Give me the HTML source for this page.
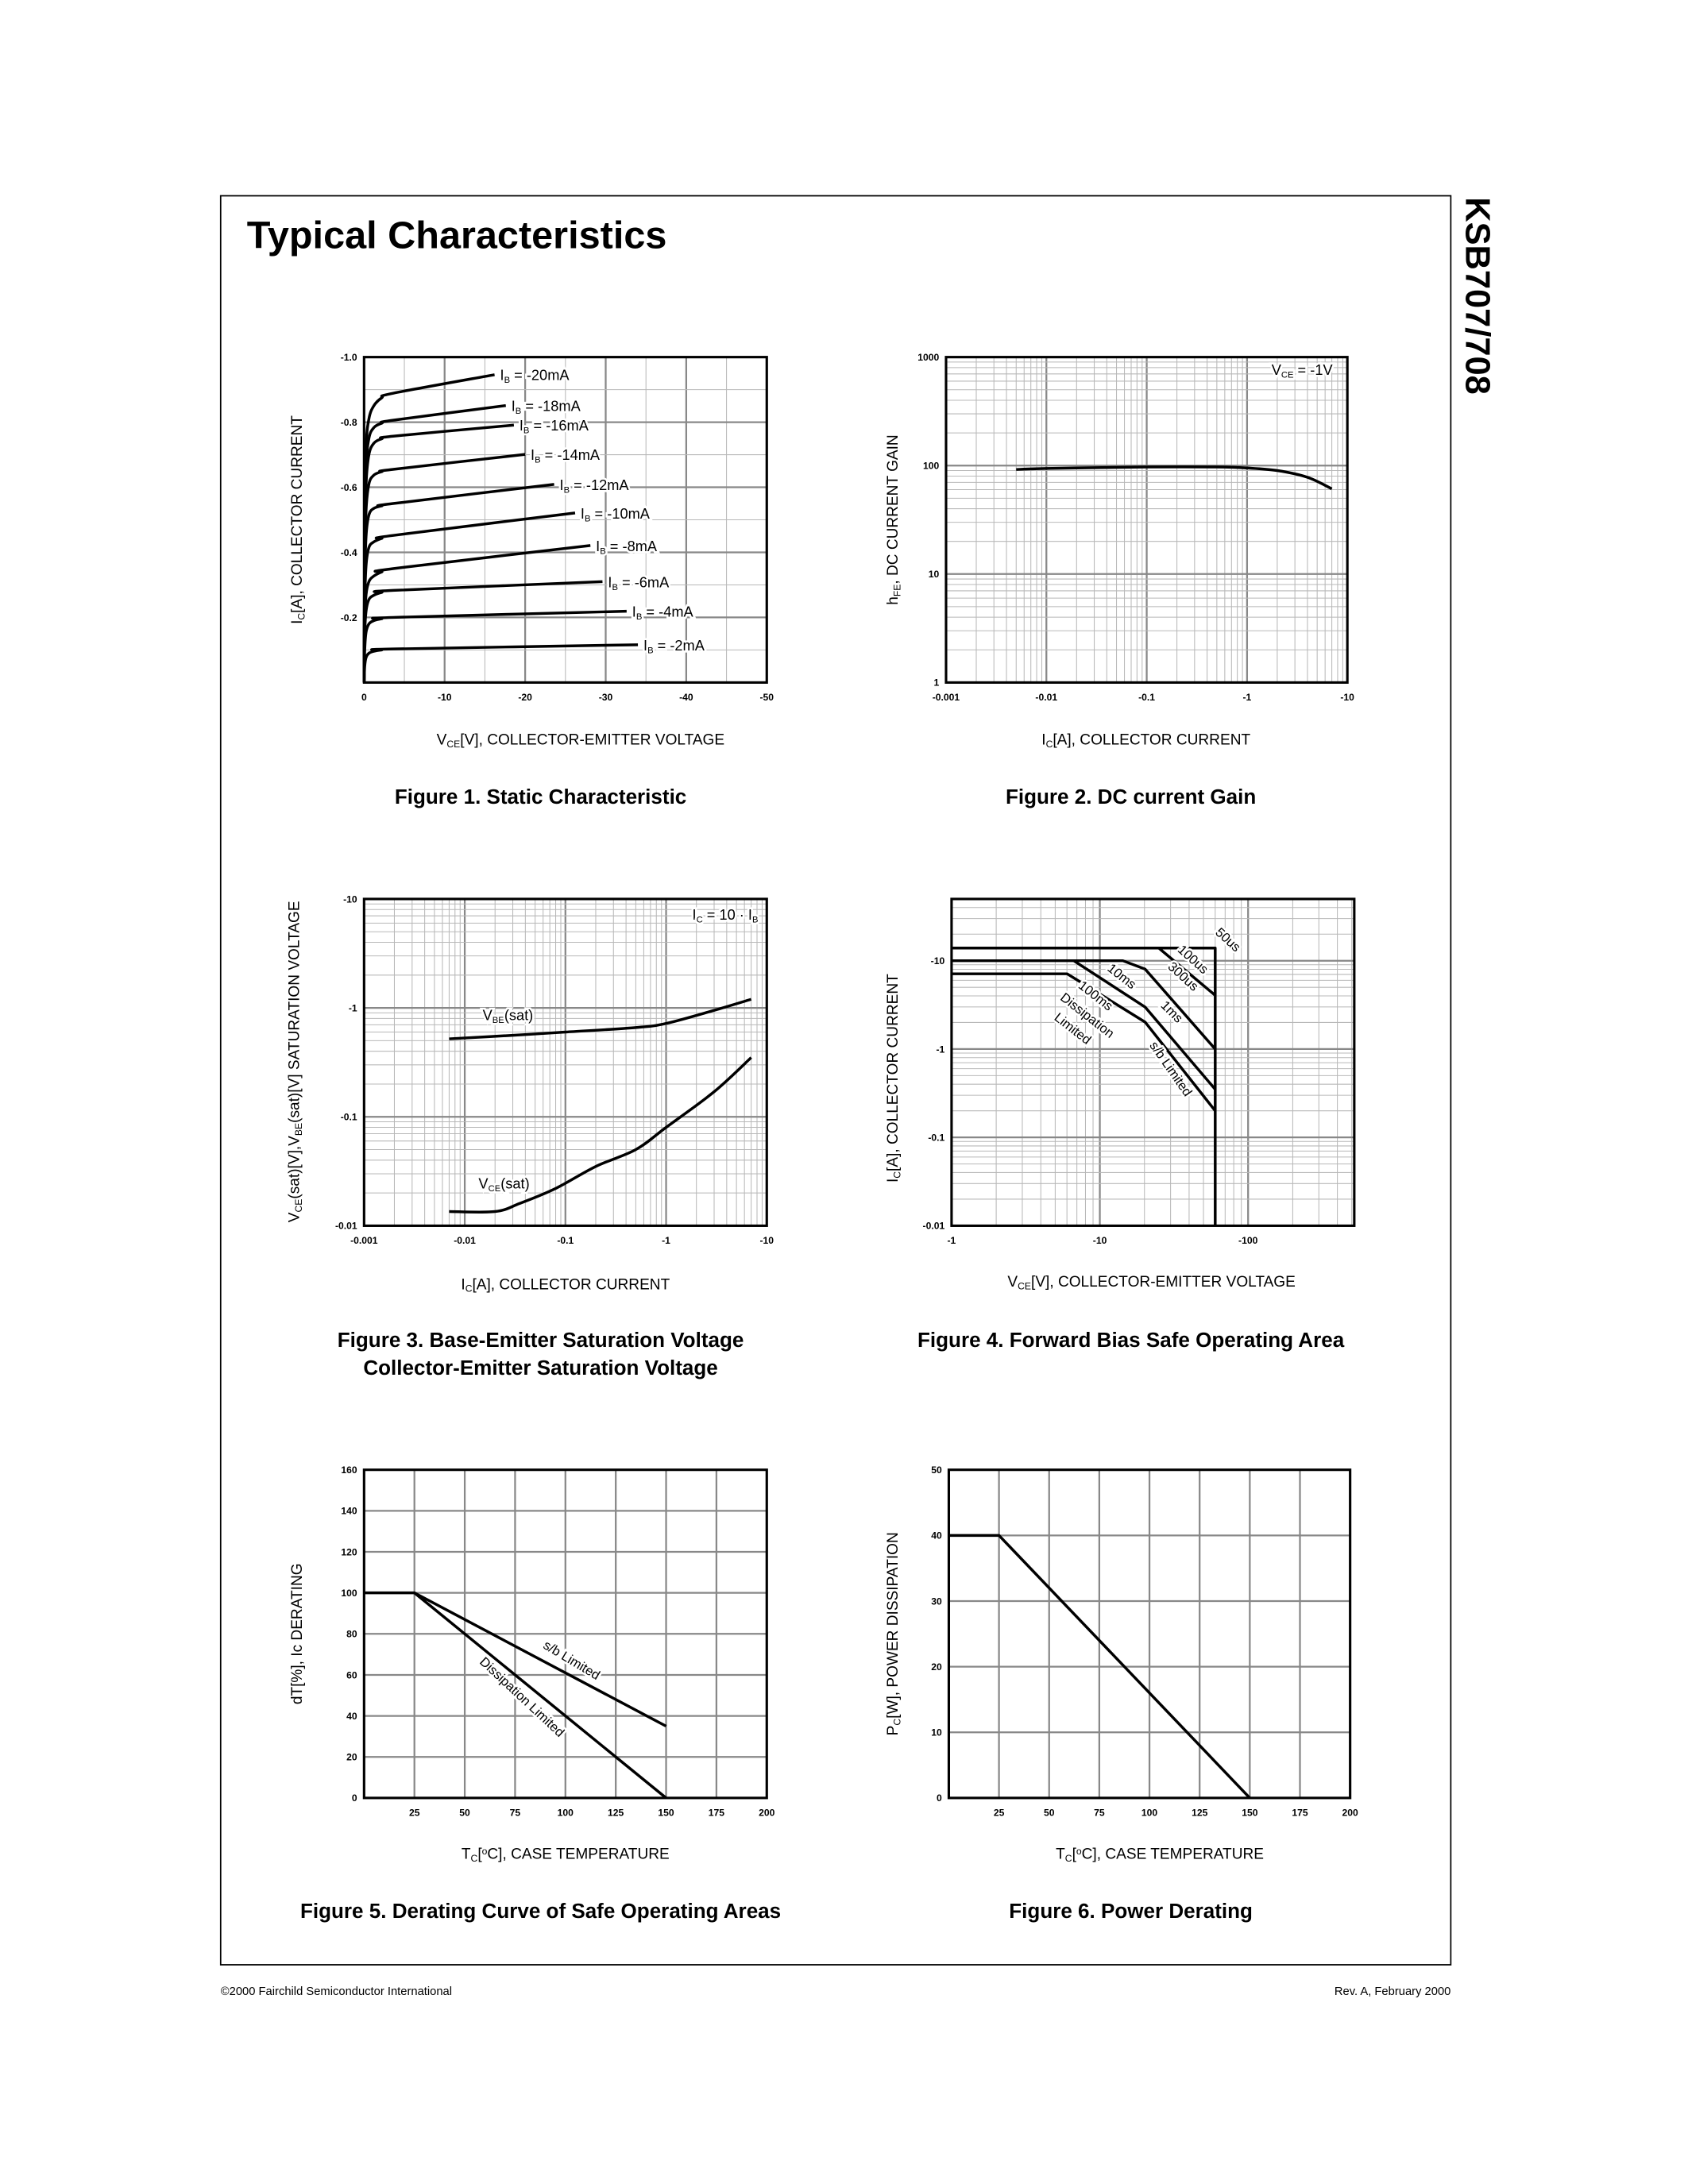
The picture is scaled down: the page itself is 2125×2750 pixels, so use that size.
<!DOCTYPE html>
<html><head><meta charset="utf-8"><title>KSB707/708 Typical Characteristics</title>
<style>
html,body{margin:0;padding:0;background:#fff;}
svg{display:block;}
text{font-family:"Liberation Sans",Arial,sans-serif;fill:#000;}
.tk{font-size:7px;font-weight:bold;}
.ax{font-size:11px;}
.cap{font-size:15px;font-weight:bold;}
.lb{font-size:10.5px;}
</style></head>
<body>
<svg id="page" width="2125" height="2750" viewBox="0 0 1224 1584" xmlns="http://www.w3.org/2000/svg">
<rect x="160" y="142" width="892" height="1283" fill="none" stroke="#000" stroke-width="1"/>
<text x="179" y="180" style="font-size:28px;font-weight:bold">Typical Characteristics</text>
<text transform="translate(1063,143) rotate(90)" style="font-size:25px;font-weight:bold">KSB707/708</text>
<text x="160" y="1447" style="font-size:8.5px">©2000 Fairchild Semiconductor International</text>
<text x="1052" y="1447" text-anchor="end" style="font-size:8.5px">Rev. A, February 2000</text>

<text transform="translate(219,377) rotate(-90)" text-anchor="middle" class="ax">I<tspan font-size="7" dy="2">C</tspan><tspan dy="-2">[A], COLLECTOR CURRENT</tspan></text>
<text x="421" y="540" text-anchor="middle" class="ax">V<tspan font-size="7" dy="2">CE</tspan><tspan dy="-2">[V], COLLECTOR-EMITTER VOLTAGE</tspan></text>
<text x="392" y="583" text-anchor="middle" class="cap">Figure 1. Static Characteristic</text>

<text transform="translate(651,377) rotate(-90)" text-anchor="middle" class="ax">h<tspan font-size="7" dy="2">FE</tspan><tspan dy="-2">, DC CURRENT GAIN</tspan></text>
<text x="831" y="540" text-anchor="middle" class="ax">I<tspan font-size="7" dy="2">C</tspan><tspan dy="-2">[A], COLLECTOR CURRENT</tspan></text>
<text x="820" y="583" text-anchor="middle" class="cap">Figure 2. DC current Gain</text>

<text transform="translate(217,770) rotate(-90)" text-anchor="middle" class="ax">V<tspan font-size="7" dy="2">CE</tspan><tspan dy="-2">(sat)[V],V</tspan><tspan font-size="7" dy="2">BE</tspan><tspan dy="-2">(sat)[V] SATURATION VOLTAGE</tspan></text>
<text x="410" y="935" text-anchor="middle" class="ax">I<tspan font-size="7" dy="2">C</tspan><tspan dy="-2">[A], COLLECTOR CURRENT</tspan></text>
<text x="392" y="977" text-anchor="middle" class="cap">Figure 3. Base-Emitter Saturation Voltage</text>
<text x="392" y="997" text-anchor="middle" class="cap">Collector-Emitter Saturation Voltage</text>

<text transform="translate(651,782) rotate(-90)" text-anchor="middle" class="ax">I<tspan font-size="7" dy="2">C</tspan><tspan dy="-2">[A], COLLECTOR CURRENT</tspan></text>
<text x="835" y="933" text-anchor="middle" class="ax">V<tspan font-size="7" dy="2">CE</tspan><tspan dy="-2">[V], COLLECTOR-EMITTER VOLTAGE</tspan></text>
<text x="820" y="977" text-anchor="middle" class="cap">Figure 4. Forward Bias Safe Operating Area</text>

<text transform="translate(219,1185) rotate(-90)" text-anchor="middle" class="ax">dT[%], Ic DERATING</text>
<text x="410" y="1348" text-anchor="middle" class="ax">T<tspan font-size="7" dy="2">C</tspan><tspan dy="-2">[</tspan><tspan font-size="7" dy="-3">o</tspan><tspan dy="3">C], CASE TEMPERATURE</tspan></text>
<text x="392" y="1391" text-anchor="middle" class="cap">Figure 5. Derating Curve of Safe Operating Areas</text>

<text transform="translate(651,1185) rotate(-90)" text-anchor="middle" class="ax">P<tspan font-size="7" dy="2">C</tspan><tspan dy="-2">[W], POWER DISSIPATION</tspan></text>
<text x="841" y="1348" text-anchor="middle" class="ax">T<tspan font-size="7" dy="2">C</tspan><tspan dy="-2">[</tspan><tspan font-size="7" dy="-3">o</tspan><tspan dy="3">C], CASE TEMPERATURE</tspan></text>
<text x="820" y="1391" text-anchor="middle" class="cap">Figure 6. Power Derating</text>
</svg>
<script>
// ---- Figure 1 data ----
const f1Labels = ['-20mA','-18mA','-16mA','-14mA','-12mA','-10mA','-8mA','-6mA','-4mA','-2mA'];
const f1Curves = [
 [[0,0],[0.08,0.45],[0.25,0.72],[0.6,0.81],[1.2,0.85],[2.2,0.875],[3.6,0.889],[16.2,0.946]],
 [[0,0],[0.08,0.42],[0.25,0.66],[0.6,0.75],[1.2,0.783],[2.2,0.797],[3.6,0.806],[17.6,0.851]],
 [[0,0],[0.08,0.4],[0.25,0.61],[0.6,0.7],[1.2,0.735],[2.2,0.749],[3.6,0.757],[18.6,0.791]],
 [[0,0],[0.08,0.35],[0.25,0.53],[0.6,0.61],[1.2,0.637],[2.2,0.648],[3.6,0.655],[20,0.701]],
 [[0,0],[0.08,0.3],[0.25,0.45],[0.6,0.515],[1.2,0.535],[2.2,0.543],[3.6,0.55],[23.6,0.609]],
 [[0,0],[0.08,0.24],[0.25,0.36],[0.6,0.415],[1.2,0.432],[2.2,0.443],[3.6,0.452],[26.2,0.521]],
 [[0,0],[0.08,0.18],[0.25,0.27],[0.6,0.31],[1.2,0.327],[2.2,0.34],[3.6,0.35],[28.1,0.421]],
 [[0,0],[0.08,0.15],[0.25,0.22],[0.6,0.255],[1.2,0.268],[2.2,0.277],[3.6,0.283],[29.6,0.31]],
 [[0,0],[0.08,0.1],[0.25,0.155],[0.6,0.18],[1.2,0.19],[2.2,0.196],[3.6,0.2],[32.6,0.219]],
 [[0,0],[0.08,0.05],[0.25,0.077],[0.6,0.09],[1.2,0.096],[2.2,0.1],[3.6,0.103],[34,0.116]]
];
const f1XTicks = [0,10,20,30,40,50];
const f1XTickLabels = ['0','-10','-20','-30','-40','-50'];
const f1YTicks = [1.0,0.8,0.6,0.4,0.2];
const f1YTickLabels = ['-1.0','-0.8','-0.6','-0.4','-0.2'];
// ---- Figure 2 data ----
const f2Ic = [0.005,0.01,0.1,0.5,1,2,4,7];
const f2Hfe = [92,94,97,97,95,90,78,61];
const f2XTicks = [0.001,0.01,0.1,1,10];
const f2XTickLabels = ['-0.001','-0.01','-0.1','-1','-10'];
const f2YTicks = [1,10,100,1000];
const f2YTickLabels = ['1','10','100','1000'];
// ---- Figure 3 data ----
const f3VbeIc = [0.007,0.03,0.1,0.5,1,3,7];
const f3Vbe = [0.52,0.56,0.6,0.66,0.72,0.95,1.2];
const f3VceIc = [0.007,0.02,0.035,0.08,0.2,0.5,1,3,7];
const f3Vce = [0.0135,0.0135,0.016,0.022,0.035,0.05,0.08,0.17,0.35];
const f3XTicks = [0.001,0.01,0.1,1,10];
const f3XTickLabels = ['-0.001','-0.01','-0.1','-1','-10'];
const f3YTicks = [0.01,0.1,1,10];
const f3YTickLabels = ['-0.01','-0.1','-1','-10'];
// ---- Figure 4 data ----
const f4PulseV = [1,60,60];
const f4PulseI = [13.9,13.9,0.01];
const f4Us100V = [25,60];
const f4Us100I = [13.9,4.06];
const f4Ms1V = [1,14.3,20.2,60];
const f4Ms1I = [10,10,8.04,1];
const f4Ms10V = [6.67,20.2,60];
const f4Ms10I = [10,2.99,0.35];
const f4DcV = [1,6.02,20.2,60];
const f4DcI = [7.11,7.11,2.02,0.2];
const f4XTicks = [1,10,100];
const f4XTickLabels = ['-1','-10','-100'];
const f4YTicks = [0.01,0.1,1,10];
const f4YTickLabels = ['-0.01','-0.1','-1','-10'];
// ---- Figure 5 data ----
const f5DissT = [0,25,150];
const f5DissV = [100,100,0];
const f5SbT = [25,150];
const f5SbV = [100,35];
const f5XTicks = [25,50,75,100,125,150,175,200];
const f5YTicks = [0,20,40,60,80,100,120,140,160];
// ---- Figure 6 data ----
const f6T = [0,25,150];
const f6P = [40,40,0];
const f6XTicks = [25,50,75,100,125,150,175,200];
const f6YTicks = [0,10,20,30,40,50];

const NS='http://www.w3.org/2000/svg';
const svg=document.getElementById('page');
function mk(tag,attrs,parent){const e=document.createElementNS(NS,tag);for(const k in attrs)e.setAttribute(k,attrs[k]);(parent||svg).appendChild(e);return e;}
function scale(min,max,p0,p1,log){return v=>{if(log){return p0+(Math.log10(v)-Math.log10(min))/(Math.log10(max)-Math.log10(min))*(p1-p0);}return p0+(v-min)/(max-min)*(p1-p0);};}
function gline(g,x1,y1,x2,y2,major){
 const l=mk('line',{x1:x1,y1:y1,x2:x2,y2:y2,stroke:major?'#888':'#b8b8b8','stroke-width':major?1.3:0.6},g);
 
 
}
function frame(g,b){
 const r=mk('rect',{x:b.x0,y:b.y1,width:b.x1-b.x0,height:b.y0-b.y1,fill:'none',stroke:'#000','stroke-width':1.8},g);
 
 
}
function tickText(g,x,y,s,anchor){
 const t=mk('text',{x:x,y:y,'text-anchor':anchor,class:'tk'},g);t.textContent=s;
 
 
}
function poly(g,xs,ys,sx,sy,name){
 const pts=xs.map((v,i)=>sx(v).toFixed(2)+','+sy(ys[i]).toFixed(2)).join(' ');
 const p=mk('polyline',{points:pts,fill:'none',stroke:'#000','stroke-width':2,'stroke-linejoin':'round'},g);
 
 
 return p;
}
function smooth(g,xs,ys,sx,sy,name){
 const P=xs.map((v,i)=>[sx(v),sy(ys[i])]);
 let d='M'+P[0][0].toFixed(2)+','+P[0][1].toFixed(2);
 for(let i=0;i<P.length-1;i++){
  const p0=P[Math.max(0,i-1)],p1=P[i],p2=P[i+1],p3=P[Math.min(P.length-1,i+2)];
  const c1=[p1[0]+(p2[0]-p0[0])/6,p1[1]+(p2[1]-p0[1])/6];
  const c2=[p2[0]-(p3[0]-p1[0])/6,p2[1]-(p3[1]-p1[1])/6];
  d+=' C'+c1.map(n=>n.toFixed(2)).join(',')+' '+c2.map(n=>n.toFixed(2)).join(',')+' '+p2[0].toFixed(2)+','+p2[1].toFixed(2);
 }
 const p=mk('path',{d:d,fill:'none',stroke:'#000','stroke-width':2,'stroke-linejoin':'round'},g);
 
 
 return p;
}
function logGrid(g,b,sx,sy,xmin,xmax,ymin,ymax){
 for(let d=Math.log10(xmin);d<Math.log10(xmax)+0.001;d++){for(let m=1;m<10;m++){const v=Math.pow(10,d)*m;if(v>xmax*1.0001)break;const x=sx(v);if(x<b.x0-0.1||x>b.x1+0.1)continue;gline(g,x,b.y1,x,b.y0,m===1);}}
 for(let d=Math.floor(Math.log10(ymin));d<Math.log10(ymax)+0.001;d++){for(let m=1;m<10;m++){const v=Math.pow(10,d)*m;if(v>ymax*1.0001||v<ymin*0.9999)continue;const y=sy(v);gline(g,b.x0,y,b.x1,y,m===1);}}
}
function label(g,x,y,rot,str,name,size){
 const t=mk('text',{x:0,y:0,transform:'translate('+x+','+y+') rotate('+rot+')','text-anchor':'middle',class:'lb',stroke:'#fff','stroke-width':3,'paint-order':'stroke'},g);
 if(size)t.setAttribute('style','font-size:'+size+'px');
 t.textContent=str;
 
 
}
function subLabel(g,x,y,main,sub,rest,name,sub2){
 const t=mk('text',{x:x,y:y,class:'lb',stroke:'#fff','stroke-width':3,'paint-order':'stroke'},g);
 
 
 const a=mk('tspan',{},t);a.textContent=main;
 const b=mk('tspan',{'font-size':'6.5',dy:'2'},t);b.textContent=sub;
 const c=mk('tspan',{dy:'-2'},t);c.textContent=rest;
 if(sub2){const e=mk('tspan',{'font-size':'6.5',dy:'2'},t);e.textContent=sub2;}
}

// ===== Figure 1 =====
(function(){
 const g=mk('g',{});
 const b={x0:264,x1:556,y0:495,y1:259};
 const sx=scale(0,50,b.x0,b.x1,false),sy=scale(0,1,b.y0,b.y1,false);
 for(let v=5;v<50;v+=5)gline(g,sx(v),b.y1,sx(v),b.y0,v%10===0);
 for(let i=1;i<10;i++){const v=i/10;gline(g,b.x0,sy(v),b.x1,sy(v),i%2===0);}
 f1Curves.forEach((c,i)=>{
  smooth(g,c.map(p=>p[0]),c.map(p=>p[1]),sx,sy,'curve-ib'+f1Labels[i]);
  const e=c[c.length-1];
  subLabel(g,sx(e[0])+4,sy(e[1])+4,'I','B',' = '+f1Labels[i],'label-ib'+f1Labels[i]);
 });
 frame(g,b);
 f1XTicks.forEach((v,i)=>tickText(g,sx(v),b.y0+13,f1XTickLabels[i],'middle'));
 f1YTicks.forEach((v,i)=>tickText(g,b.x0-5,sy(v)+2.5,f1YTickLabels[i],'end'));
})();

// ===== Figure 2 =====
(function(){
 const g=mk('g',{});
 const b={x0:686,x1:977,y0:495,y1:259};
 const sx=scale(0.001,10,b.x0,b.x1,true),sy=scale(1,1000,b.y0,b.y1,true);
 logGrid(g,b,sx,sy,0.001,10,1,1000);
 smooth(g,f2Ic,f2Hfe,sx,sy,'hfe-curve');
 frame(g,b);
 subLabel(g,922,272,'V','CE',' = -1V','condition-label');
 f2XTicks.forEach((v,i)=>tickText(g,sx(v),b.y0+13,f2XTickLabels[i],'middle'));
 f2YTicks.forEach((v,i)=>tickText(g,b.x0-5,sy(v)+2.5,f2YTickLabels[i],'end'));
})();

// ===== Figure 3 =====
(function(){
 const g=mk('g',{});
 const b={x0:264,x1:556,y0:889,y1:652};
 const sx=scale(0.001,10,b.x0,b.x1,true),sy=scale(0.01,10,b.y0,b.y1,true);
 logGrid(g,b,sx,sy,0.001,10,0.01,10);
 smooth(g,f3VbeIc,f3Vbe,sx,sy,'vbe-sat-curve');
 smooth(g,f3VceIc,f3Vce,sx,sy,'vce-sat-curve');
 frame(g,b);
 subLabel(g,350,740,'V','BE','(sat)','vbe-sat-label');
 subLabel(g,347,862,'V','CE','(sat)','vce-sat-label');
 subLabel(g,502,667,'I','C',' = 10 · I','condition-label','B');
 f3XTicks.forEach((v,i)=>tickText(g,sx(v),b.y0+13,f3XTickLabels[i],'middle'));
 f3YTicks.forEach((v,i)=>tickText(g,b.x0-5,sy(v)+2.5,f3YTickLabels[i],'end'));
})();

// ===== Figure 4 =====
(function(){
 const g=mk('g',{});
 const b={x0:690,x1:982,y0:889,y1:652};
 const sx=scale(1,520,b.x0,b.x1,true),sy=scale(0.01,50,b.y0,b.y1,true);
 logGrid(g,b,sx,sy,1,520,0.01,50);
 poly(g,f4PulseV,f4PulseI,sx,sy,'soa-50us-boundary');
 poly(g,f4Us100V,f4Us100I,sx,sy,'soa-100us-line');
 poly(g,f4Ms1V,f4Ms1I,sx,sy,'soa-1ms-line');
 poly(g,f4Ms10V,f4Ms10I,sx,sy,'soa-10ms-line');
 poly(g,f4DcV,f4DcI,sx,sy,'soa-dc-line');
 frame(g,b);
 label(g,sx(70),sy(15.9),42,'50us','label-50us',9.5);
 label(g,sx(40.7),sy(9.5),42,'100us','label-100us',9.5);
 label(g,sx(34.9),sy(6.1),42,'300us','label-300us',9.5);
 label(g,sx(13.5),sy(6.1),38,'10ms','label-10ms',9.5);
 label(g,sx(29.2),sy(2.44),45,'1ms','label-1ms',9.5);
 label(g,sx(9),sy(3.67),38,'100ms','label-100ms',9.5);
 label(g,sx(7.9),sy(2.2),38,'Dissipation','label-dissipation',9.5);
 label(g,sx(6.3),sy(1.56),38,'Limited','label-limited',9.5);
 label(g,sx(28.5),sy(0.56),55,'s/b Limited','label-sb-limited',9.5);
 f4XTicks.forEach((v,i)=>tickText(g,sx(v),b.y0+13,f4XTickLabels[i],'middle'));
 f4YTicks.forEach((v,i)=>tickText(g,b.x0-5,sy(v)+2.5,f4YTickLabels[i],'end'));
})();

// ===== Figure 5 =====
(function(){
 const g=mk('g',{});
 const b={x0:264,x1:556,y0:1304,y1:1066};
 const sx=scale(0,200,b.x0,b.x1,false),sy=scale(0,160,b.y0,b.y1,false);
 f5XTicks.forEach(v=>gline(g,sx(v),b.y1,sx(v),b.y0,true));
 f5YTicks.forEach(v=>gline(g,b.x0,sy(v),b.x1,sy(v),true));
 poly(g,f5DissT,f5DissV,sx,sy,'dissipation-limited-line');
 poly(g,f5SbT,f5SbV,sx,sy,'sb-limited-line');
 frame(g,b);
 label(g,sx(102),sy(60)-8,31,'s/b Limited','label-sb-limited',9.5);
 label(g,sx(77),sy(49)+2,43,'Dissipation Limited','label-dissipation-limited',9.5);
 f5XTicks.forEach(v=>tickText(g,sx(v),b.y0+13,String(v),'middle'));
 f5YTicks.forEach(v=>tickText(g,b.x0-5,sy(v)+2.5,String(v),'end'));
})();

// ===== Figure 6 =====
(function(){
 const g=mk('g',{});
 const b={x0:688,x1:979,y0:1304,y1:1066};
 const sx=scale(0,200,b.x0,b.x1,false),sy=scale(0,50,b.y0,b.y1,false);
 f6XTicks.forEach(v=>gline(g,sx(v),b.y1,sx(v),b.y0,true));
 f6YTicks.forEach(v=>gline(g,b.x0,sy(v),b.x1,sy(v),true));
 poly(g,f6T,f6P,sx,sy,'power-derating-line');
 frame(g,b);
 f6XTicks.forEach(v=>tickText(g,sx(v),b.y0+13,String(v),'middle'));
 f6YTicks.forEach(v=>tickText(g,b.x0-5,sy(v)+2.5,String(v),'end'));
})();
</script>
</body></html>
